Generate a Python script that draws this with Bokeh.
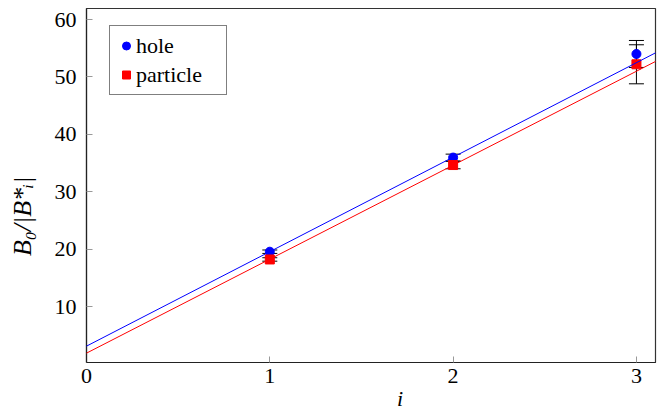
from bokeh.plotting import figure
from bokeh.models import (ColumnDataSource, Whisker, TeeHead, Slope, Legend, LegendItem,
                          Range1d, FixedTicker, LinearAxis)
from bokeh.embed import file_html
from bokeh.resources import INLINE

# data
i_vals = [1, 2, 3]
hole = [19.55, 35.95, 54.0]
hole_err = [0.3, 0.6, 2.35]
particle = [18.2, 34.65, 52.2]
particle_err = [0.3, 0.65, 3.4]
hole_fit = (3.1, 16.46)       # intercept, slope
particle_fit = (1.88, 16.37)  # intercept, slope
x_ticks = [0, 1, 2, 3]
y_ticks = [10, 20, 30, 40, 50, 60]
x_label = "i"
y_label = "B₀/|B*ᵢ|"
x_label_at = 1.711   # where the axis titles sit along their axes (data units)
y_label_at = 25.7

FONT = "Liberation Serif"
FS = "22px"

W, H = 658, 414
ML, MR, MT, MB = 86, 3, 8, 52
FW, FH = W - ML - MR, H - MT - MB

p = figure(width=W, height=H, output_backend="svg", toolbar_location=None,
           x_range=Range1d(0, 3.104), y_range=Range1d(0.25, 61.92),
           min_border_left=ML, min_border_right=MR, min_border_top=MT, min_border_bottom=MB)
p.grid.visible = False
p.outline_line_color = "#333333"
p.outline_line_width = 1.2

for ax in (p.xaxis[0], p.yaxis[0]):
    ax.major_tick_in = 6
    ax.major_tick_out = 0
    ax.minor_tick_line_color = None
    ax.major_tick_line_color = "#999999"
    ax.axis_line_color = "#222222"
    ax.axis_line_width = 1.2
    ax.major_label_text_font = FONT
    ax.major_label_text_font_size = FS
    ax.major_label_text_color = "black"

p.xaxis.ticker = FixedTicker(ticks=x_ticks)
p.yaxis.ticker = FixedTicker(ticks=y_ticks)
p.xaxis.major_label_standoff = 6
p.yaxis.major_label_standoff = 10

# axis titles, drawn as the single label of an extra, otherwise invisible axis
def title_axis(pos, text, standoff, size, orientation):
    ax = LinearAxis(ticker=FixedTicker(ticks=[pos]),
                    major_label_overrides={pos: text},
                    axis_line_color=None, major_tick_line_color=None,
                    minor_tick_line_color=None,
                    major_tick_in=0, major_tick_out=0,
                    major_label_standoff=standoff,
                    major_label_orientation=orientation,
                    major_label_text_font=FONT, major_label_text_font_size=size,
                    major_label_text_font_style="italic", major_label_text_color="black")
    return ax

p.add_layout(title_axis(x_label_at, x_label, 0, FS, "horizontal"), "below")
p.add_layout(title_axis(y_label_at, y_label, 14, "26px", "vertical"), "left")

# fit lines
p.add_layout(Slope(gradient=hole_fit[1], y_intercept=hole_fit[0], line_color="blue", line_width=1))
p.add_layout(Slope(gradient=particle_fit[1], y_intercept=particle_fit[0], line_color="red", line_width=1))

src_h = ColumnDataSource(dict(x=i_vals, y=hole,
                              up=[v + e for v, e in zip(hole, hole_err)],
                              lo=[v - e for v, e in zip(hole, hole_err)]))
src_p = ColumnDataSource(dict(x=i_vals, y=particle,
                              up=[v + e for v, e in zip(particle, particle_err)],
                              lo=[v - e for v, e in zip(particle, particle_err)]))

for src in (src_h, src_p):
    w = Whisker(source=src, base="x", upper="up", lower="lo", dimension="height",
                line_color="black", line_width=1,
                upper_head=TeeHead(size=15, line_color="black", line_width=1),
                lower_head=TeeHead(size=15, line_color="black", line_width=1))
    p.add_layout(w)

r_h = p.scatter("x", "y", source=src_h, marker="circle", size=9, color="blue")
r_p = p.scatter("x", "y", source=src_p, marker="square", size=9, color="red")

LEG_H = 68
legend = Legend(items=[LegendItem(label="hole", renderers=[r_h]),
                       LegendItem(label="particle", renderers=[r_p])],
                location=(23, FH - 19 - LEG_H))
legend.label_text_font = FONT
legend.label_text_font_size = FS
legend.label_text_color = "black"
legend.border_line_color = "black"
legend.border_line_width = 1
legend.margin = 0
legend.padding = 6
legend.spacing = 2
legend.glyph_width = 20
legend.glyph_height = 27
legend.label_height = 27
legend.label_width = 84
legend.label_standoff = 0
p.add_layout(legend)

open("out.html", "w").write(file_html(p, INLINE))
